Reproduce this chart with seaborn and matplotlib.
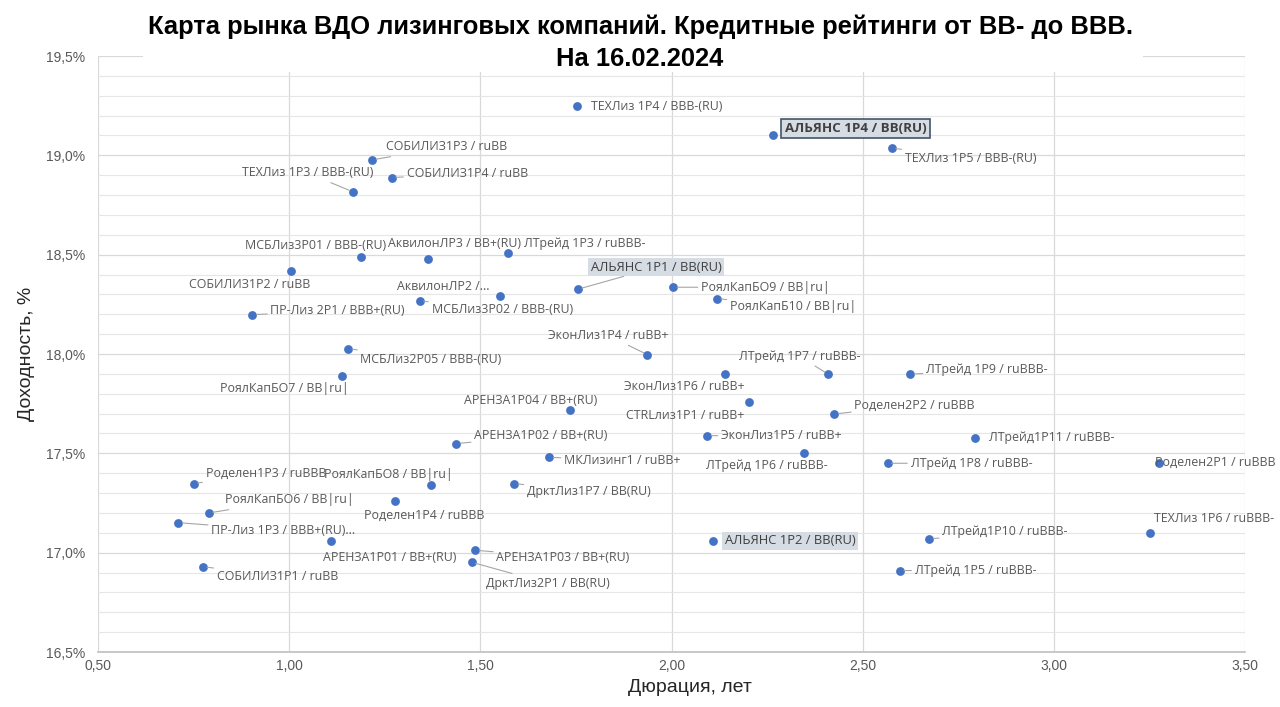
import matplotlib
matplotlib.use("Agg")
import matplotlib.pyplot as plt
import matplotlib.font_manager as fm
from matplotlib.patches import Rectangle
from matplotlib.ticker import MultipleLocator, FuncFormatter
import seaborn as sns
import pandas as pd

# ---------------- data ----------------
labels = [
    "ТЕХЛиз 1Р4 / BBB-(RU)", "АЛЬЯНС 1Р4 / BB(RU)", "ТЕХЛиз 1Р5 / BBB-(RU)",
    "СОБИЛИЗ1Р3 / ruBB", "СОБИЛИЗ1Р4 / ruBB", "ТЕХЛиз 1Р3 / BBB-(RU)",
    "МСБЛиз3Р01 / BBB-(RU)", "АквилонЛР3 / BB+(RU)", "СОБИЛИЗ1Р2 / ruBB",
    "ЛТрейд 1Р3 / ruBBB-", "АЛЬЯНС 1Р1 / BB(RU)", "АквилонЛР2 /...",
    "МСБЛиз3Р02 / BBB-(RU)", "РоялКапБО9 / BB|ru|", "РоялКапБ10 / BB|ru|",
    "ПР-Лиз 2Р1 / BBB+(RU)", "МСБЛиз2Р05 / BBB-(RU)", "РоялКапБО7 / BB|ru|",
    "ЭконЛиз1Р4 / ruBB+", "ЭконЛиз1Р6 / ruBB+", "ЛТрейд 1Р7 / ruBBB-",
    "ЛТрейд 1Р9 / ruBBB-", "CTRLлиз1Р1 / ruBB+", "Роделен2Р2 / ruBBB",
    "АРЕНЗА1Р04 / BB+(RU)", "АРЕНЗА1Р02 / BB+(RU)", "ЭконЛиз1Р5 / ruBB+",
    "ЛТрейд1Р11 / ruBBB-", "ЛТрейд 1Р6 / ruBBB-", "МКЛизинг1 / ruBB+",
    "ЛТрейд 1Р8 / ruBBB-", "Роделен2Р1 / ruBBB", "Роделен1Р3 / ruBBB",
    "РоялКапБО8 / BB|ru|", "ДрктЛиз1Р7 / BB(RU)", "Роделен1Р4 / ruBBB",
    "РоялКапБО6 / BB|ru|", "ПР-Лиз 1Р3 / BBB+(RU)...", "АРЕНЗА1Р01 / BB+(RU)",
    "АРЕНЗА1Р03 / BB+(RU)", "ДрктЛиз2Р1 / BB(RU)", "СОБИЛИЗ1Р1 / ruBB",
    "АЛЬЯНС 1Р2 / BB(RU)", "ЛТрейд1Р10 / ruBBB-", "ЛТрейд 1Р5 / ruBBB-",
    "ТЕХЛиз 1Р6 / ruBBB-",
]
duration = [
    1.753, 2.265, 2.576, 1.217, 1.268, 1.167, 1.187, 1.362, 1.005, 1.572,
    1.755, 1.552, 1.341, 2.004, 2.119, 0.904, 1.154, 1.138, 1.937, 2.140,
    2.410, 2.624, 2.204, 2.426, 1.735, 1.437, 2.093, 2.793, 2.346, 1.680,
    2.565, 3.276, 0.750, 1.370, 1.588, 1.277, 0.790, 0.710, 1.109, 1.487,
    1.477, 0.774, 2.108, 2.674, 2.597, 3.251,
]
yield_pct = [
    19.248, 19.100, 19.037, 18.977, 18.888, 18.816, 18.487, 18.478, 18.418, 18.507,
    18.326, 18.292, 18.268, 18.336, 18.279, 18.198, 18.027, 17.888, 17.997, 17.898,
    17.898, 17.898, 17.759, 17.698, 17.717, 17.549, 17.589, 17.579, 17.502, 17.480,
    17.450, 17.450, 17.348, 17.341, 17.348, 17.259, 17.200, 17.151, 17.059, 17.012,
    16.952, 16.930, 17.059, 17.069, 16.910, 17.101,
]
x_ticks = [0.5, 1.0, 1.5, 2.0, 2.5, 3.0, 3.5]
y_ticks = [16.5, 17.0, 17.5, 18.0, 18.5, 19.0, 19.5]

title_lines = ["Карта рынка ВДО лизинговых компаний. Кредитные рейтинги от BB- до BBB.",
               "На 16.02.2024"]
x_title = "Дюрация, лет"
y_title = "Доходность, %"

# ---------------- layout (label offsets in pixels: dx, dy(down), ha, leader) ----------------
label_layout = [
    (14, 0, "left", False), (12, -7, "left", False), (13, 11, "left", True),
    (14, -13, "left", True), (15, -4, "left", True), (20, -19, "right", True),
    (25, -12, "right", False), (27, -16, "center", False), (-41, 14, "center", False),
    (16, -10, "left", False), (13, -22, "left", True), (-11, -9, "right", False),
    (12, 9, "left", True), (28, 0, "left", True), (13, 8, "left", True),
    (18, -4, "left", True), (12, 11, "left", True), (7, 12, "right", False),
    (21, -19, "right", True), (20, 12, "right", False), (32, -18, "right", True),
    (16, -5, "left", True), (-5, 14, "right", False), (20, -9, "left", True),
    (27, -10, "right", False), (18, -8, "left", True), (14, 0, "left", True),
    (14, 0, "left", False), (24, 13, "right", False), (15, 3, "left", True),
    (23, 0, "left", True), (-4, -1, "left", False), (12, -10, "left", True),
    (22, -10, "right", False), (13, 8, "left", True), (29, 14, "center", False),
    (16, -13, "left", True), (33, 8, "left", True), (-8, 17, "left", False),
    (21, 7, "left", True), (14, 21, "left", True), (14, 10, "left", True),
    (12, 0, "left", False), (13, -7, "left", True), (15, 0, "left", True),
    (4, -14, "left", False),
]
boxed_bold = {1}
boxed_plain = {10, 42}

# ---------------- fonts ----------------
names = {f.name for f in fm.fontManager.ttflist}
narrow = "Liberation Sans Narrow" if "Liberation Sans Narrow" in names else "Liberation Sans"
label_font = "Open Sans" if "Open Sans" in names else "DejaVu Sans"

sns.set_theme(style="white")
plt.rcParams["font.family"] = [narrow, "DejaVu Sans"]

df = pd.DataFrame({"label": labels, "duration": duration, "yield": yield_pct})

fig = plt.figure(figsize=(12.8, 7.07), dpi=100)
ax = fig.add_axes([98 / 1280, 1 - 652 / 707, (1245 - 98) / 1280, (652 - 56) / 707])

sns.scatterplot(data=df, x="duration", y="yield", ax=ax, s=40, color="#4472C4",
                edgecolor="#4472C4", linewidth=0, zorder=4, legend=False)

ax.set_xlim(x_ticks[0], x_ticks[-1])
ax.set_ylim(y_ticks[0], y_ticks[-1])
ax.set_xticks(x_ticks)
ax.set_yticks(y_ticks)
ax.yaxis.set_minor_locator(MultipleLocator(0.1))
ax.xaxis.set_major_formatter(FuncFormatter(lambda v, p: f"{v:.2f}".replace(".", ",")))
ax.yaxis.set_major_formatter(FuncFormatter(lambda v, p: f"{v:.1f}".replace(".", ",") + "%"))
ax.grid(which="major", axis="both", color="#D9D9D9", linewidth=0.9)
ax.grid(which="minor", axis="y", color="#E6E6E6", linewidth=0.8)
ax.set_axisbelow(True)
for s in ["top", "right", "left"]:
    ax.spines[s].set_visible(False)
ax.spines["bottom"].set_color("#BFBFBF")
ax.spines["bottom"].set_linewidth(1.2)
ax.tick_params(axis="both", which="both", length=0, labelsize=10, labelcolor="#595959")
ax.tick_params(axis="y", pad=9)
ax.tick_params(axis="x", pad=5)

ax.set_xlabel(x_title, fontsize=14, color="#262626", labelpad=5)
ax.xaxis.set_label_coords((690 - 98) / 1147, -0.045)
ax.set_ylabel(y_title, fontsize=14, color="#262626", labelpad=8)

for i, (lab, xv, yv) in enumerate(zip(labels, duration, yield_pct)):
    dx, dy, ha, leader = label_layout[i]
    kw = dict(fontsize=8.9, color="#595959", family=[label_font, "DejaVu Sans"])
    if i in boxed_bold:
        kw.update(fontweight="bold", color="#404040", fontsize=9.6,
                  bbox=dict(boxstyle="square,pad=0.25", fc="#D6DCE4", ec="#44546A", lw=1.2))
    elif i in boxed_plain:
        kw.update(color="#404040", fontsize=9.4,
                  bbox=dict(boxstyle="square,pad=0.2", fc="#D6DCE4", ec="none"))
    arrow = None
    if leader:
        arrow = dict(arrowstyle="-", color="#A6A6A6", lw=0.8, shrinkA=0, shrinkB=3)
    ax.annotate(lab, xy=(xv, yv), xytext=(dx, -dy), textcoords="offset pixels",
                ha=ha, va="center", annotation_clip=False, arrowprops=arrow,
                zorder=5, **kw)

# white band behind title
fig.add_artist(Rectangle((143 / 1280, 1 - 72 / 707), 1000 / 1280, 72 / 707,
                         transform=fig.transFigure, facecolor="white",
                         edgecolor="none", zorder=5))
fig.text(0.5, 1 - 27 / 707, title_lines[0], ha="center", va="center",
         fontsize=18.4, fontweight="bold", color="black", zorder=6)
fig.text(0.5, 1 - 59 / 707, title_lines[1], ha="center", va="center",
         fontsize=18.4, fontweight="bold", color="black", zorder=6)

fig.savefig("out.png", dpi=100)
